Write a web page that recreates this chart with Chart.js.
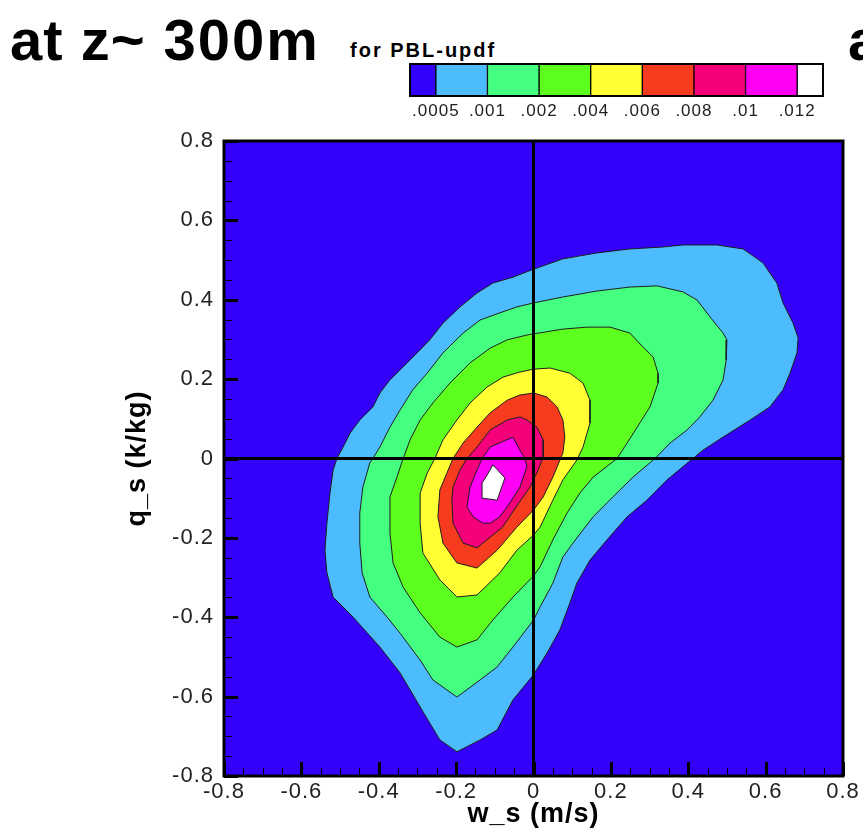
<!DOCTYPE html>
<html>
<head>
<meta charset="utf-8">
<script src="https://cdn.jsdelivr.net/npm/chart.js@4/dist/chart.umd.min.js"></script>
<style>
  html, body { margin: 0; padding: 0; background: #fff; }
  body { position: relative; width: 863px; height: 836px; overflow: hidden; font-family: "Liberation Sans", Arial, sans-serif; }
  canvas { position: absolute; }
  #pdf { left: 0; top: 0; }
  #scale { left: 380px; top: 54px; }
  .head { position: absolute; font-weight: bold; color: #000; white-space: nowrap; line-height: 1; }
  #h1 { left: 10px; top: 11px; font-size: 58px; letter-spacing: 1px; }
  #h1 span { margin-left: 18px; letter-spacing: 2px; }
  #h2 { left: 350px; top: 40px; font-size: 20px; letter-spacing: 2px; }
  #h3 { left: 848px; top: 11px; font-size: 58px; }
</style>
</head>
<body>
<div class="head" id="h1">at z~<span>300m</span></div>
<div class="head" id="h2">for PBL-updf</div>
<div class="head" id="h3">a</div>
<canvas id="pdf" width="863" height="836"></canvas>
<canvas id="scale" width="480" height="75"></canvas>
<script>
// contour levels of the joint pdf and their labels
const levels = [0.0005, 0.001, 0.002, 0.004, 0.006, 0.008, 0.01, 0.012];
const levelLabels = ['.0005', '.001', '.002', '.004', '.006', '.008', '.01', '.012'];
// band colours: below first level, then one per level
const bandColors = ['#3300fa', '#4cbcff', '#44ff80', '#5cff1e', '#ffff33', '#f73b1e', '#f5007a', '#ff00f5', '#ffffff'];
// width of each box in the colour bar
const bandWidths = [0.5, 1, 1, 1, 1, 1, 1, 1, 0.5];

// axis ticks (w_s and q_s share the same range)
const tickValues = [-0.8, -0.6, -0.4, -0.2, 0, 0.2, 0.4, 0.6, 0.8];
const tickLabels = ['-0.8', '-0.6', '-0.4', '-0.2', '0', '0.2', '0.4', '0.6', '0.8'];

// contour outlines, [w_s, q_s] pairs, one per level
const pdf0005 = [[-0.508,0.0],[-0.492,0.029],[-0.474,0.064],[-0.449,0.097],[-0.415,0.130],[-0.397,0.165],[-0.371,0.198],[-0.337,0.231],[-0.301,0.266],[-0.268,0.299],[-0.234,0.341],[-0.190,0.382],[-0.146,0.417],[-0.105,0.442],[-0.053,0.457],[0.0,0.477],[0.076,0.503],[0.164,0.518],[0.249,0.528],[0.335,0.533],[0.386,0.538],[0.474,0.538],[0.542,0.528],[0.593,0.493],[0.629,0.442],[0.645,0.392],[0.671,0.341],[0.684,0.304],[0.681,0.266],[0.663,0.215],[0.645,0.173],[0.611,0.130],[0.560,0.097],[0.490,0.054],[0.438,0.021],[0.412,0.0],[0.345,-0.054],[0.293,-0.105],[0.242,-0.147],[0.190,-0.205],[0.146,-0.256],[0.112,-0.314],[0.094,-0.364],[0.068,-0.432],[0.035,-0.490],[0.0,-0.545],[-0.053,-0.608],[-0.094,-0.684],[-0.138,-0.709],[-0.198,-0.739],[-0.242,-0.709],[-0.293,-0.626],[-0.345,-0.540],[-0.397,-0.475],[-0.467,-0.399],[-0.518,-0.349],[-0.534,-0.288],[-0.539,-0.231],[-0.534,-0.163],[-0.526,-0.087],[-0.518,-0.029]];
const pdf001 = [[-0.415,0.0],[-0.397,0.029],[-0.371,0.079],[-0.345,0.122],[-0.312,0.173],[-0.275,0.215],[-0.234,0.266],[-0.182,0.316],[-0.138,0.349],[-0.087,0.367],[-0.043,0.382],[0.0,0.392],[0.076,0.407],[0.164,0.422],[0.249,0.432],[0.319,0.435],[0.386,0.420],[0.423,0.399],[0.456,0.357],[0.490,0.316],[0.500,0.299],[0.498,0.248],[0.490,0.198],[0.464,0.147],[0.430,0.105],[0.397,0.072],[0.353,0.039],[0.314,0.0],[0.257,-0.047],[0.205,-0.097],[0.154,-0.147],[0.102,-0.213],[0.076,-0.248],[0.050,-0.314],[0.017,-0.374],[0.0,-0.407],[-0.053,-0.475],[-0.094,-0.525],[-0.138,-0.558],[-0.198,-0.601],[-0.260,-0.558],[-0.293,-0.508],[-0.345,-0.440],[-0.379,-0.399],[-0.423,-0.349],[-0.443,-0.288],[-0.449,-0.213],[-0.449,-0.137],[-0.441,-0.072],[-0.423,-0.011]];
const pdf002 = [[-0.337,0.0],[-0.319,0.047],[-0.293,0.097],[-0.260,0.140],[-0.216,0.190],[-0.164,0.241],[-0.112,0.278],[-0.068,0.299],[-0.017,0.311],[0.0,0.314],[0.076,0.326],[0.138,0.331],[0.198,0.331],[0.249,0.316],[0.283,0.281],[0.309,0.256],[0.322,0.215],[0.322,0.190],[0.301,0.130],[0.268,0.079],[0.242,0.039],[0.216,0.0],[0.154,-0.047],[0.120,-0.087],[0.087,-0.137],[0.050,-0.205],[0.017,-0.273],[0.0,-0.296],[-0.053,-0.349],[-0.105,-0.407],[-0.146,-0.457],[-0.198,-0.475],[-0.242,-0.450],[-0.293,-0.389],[-0.337,-0.324],[-0.363,-0.263],[-0.371,-0.188],[-0.371,-0.097],[-0.353,-0.047]];
const pdf004 = [[-0.255,0.0],[-0.234,0.047],[-0.198,0.097],[-0.164,0.140],[-0.120,0.180],[-0.079,0.205],[-0.035,0.218],[0.0,0.225],[0.043,0.228],[0.094,0.215],[0.128,0.190],[0.146,0.147],[0.146,0.089],[0.128,0.029],[0.112,-0.004],[0.076,-0.054],[0.050,-0.105],[0.017,-0.173],[0.0,-0.193],[-0.043,-0.231],[-0.087,-0.288],[-0.146,-0.344],[-0.198,-0.349],[-0.242,-0.306],[-0.286,-0.238],[-0.293,-0.163],[-0.293,-0.087],[-0.275,-0.037]];
const pdf006 = [[-0.208,0.0],[-0.182,0.039],[-0.146,0.079],[-0.112,0.115],[-0.068,0.147],[-0.035,0.160],[0.0,0.165],[0.035,0.155],[0.061,0.130],[0.076,0.097],[0.081,0.054],[0.076,0.014],[0.050,-0.047],[0.025,-0.097],[0.0,-0.130],[-0.043,-0.173],[-0.094,-0.231],[-0.146,-0.276],[-0.198,-0.263],[-0.234,-0.213],[-0.247,-0.147],[-0.242,-0.079],[-0.224,-0.037]];
const pdf008 = [[-0.172,0.0],[-0.146,0.029],[-0.112,0.072],[-0.068,0.097],[-0.035,0.105],[-0.017,0.097],[0.009,0.079],[0.025,0.047],[0.025,0.004],[0.012,-0.029],[-0.009,-0.072],[-0.045,-0.122],[-0.080,-0.173],[-0.146,-0.225],[-0.182,-0.213],[-0.208,-0.163],[-0.211,-0.105],[-0.208,-0.072],[-0.190,-0.029]];
const pdf01 = [[-0.133,0.0],[-0.112,0.029],[-0.053,0.054],[-0.035,0.021],[-0.022,0.0],[-0.017,-0.021],[-0.035,-0.072],[-0.061,-0.112],[-0.087,-0.147],[-0.112,-0.163],[-0.131,-0.163],[-0.156,-0.147],[-0.172,-0.122],[-0.164,-0.072],[-0.146,-0.029]];
const pdf012 = [[-0.105,-0.016],[-0.074,-0.049],[-0.094,-0.105],[-0.131,-0.100],[-0.133,-0.062],[-0.120,-0.042]];

const contours = [pdf0005, pdf001, pdf002, pdf004, pdf006, pdf008, pdf01, pdf012];

Chart.defaults.font.family = '"Liberation Sans", Arial, sans-serif';
Chart.defaults.color = '#222';

// the labels in this figure are set a little loose
const looseText = {
  id: 'looseText',
  beforeDraw(chart) { chart.ctx.letterSpacing = '1px'; }
};

// blue background, zero lines, inner ticks and frame
const plotFrame = {
  id: 'plotFrame',
  beforeDatasetsDraw(chart) {
    const {ctx, chartArea: a} = chart;
    ctx.save();
    ctx.fillStyle = bandColors[0];
    ctx.fillRect(a.left, a.top, a.width, a.height);
    ctx.restore();
  },
  afterDatasetsDraw(chart) {
    const {ctx, chartArea: a, scales: {x, y}} = chart;
    const seg = (x1, y1, x2, y2) => { ctx.beginPath(); ctx.moveTo(x1, y1); ctx.lineTo(x2, y2); ctx.stroke(); };
    ctx.save();
    ctx.strokeStyle = '#000';
    ctx.lineWidth = 3;
    const x0 = x.getPixelForValue(0), y0 = y.getPixelForValue(0);
    seg(x0, a.top, x0, a.bottom);
    seg(a.left, y0, a.right, y0);
    for (let i = 0; i <= 32; i++) {
      const v = -0.8 + i * 0.05;
      const major = i % 4 === 0;
      const len = major ? 14 : 8;
      ctx.lineWidth = major ? 3 : 1;
      const px = Math.round(x.getPixelForValue(v)) + 0.5;
      const py = Math.round(y.getPixelForValue(v)) + 0.5;
      seg(px, a.bottom, px, a.bottom - len);
      seg(a.left, py, a.left + len, py);
    }
    ctx.lineWidth = 3;
    ctx.strokeRect(a.left, a.top, a.width, a.height);
    ctx.restore();
  }
};

new Chart(document.getElementById('pdf'), {
  type: 'line',
  data: {
    datasets: contours.map((pts, i) => ({
      label: levelLabels[i],
      data: pts.concat([pts[0]]),
      backgroundColor: bandColors[i + 1],
      borderColor: '#1e1e1e',
      borderWidth: 1,
      fill: 'shape',
      tension: 0,
      pointRadius: 0,
      order: contours.length - i
    }))
  },
  options: {
    responsive: false,
    animation: false,
    events: [],
    layout: { padding: { top: 141, right: 20, left: 0, bottom: 0 } },
    plugins: { legend: { display: false }, tooltip: { enabled: false } },
    scales: {
      x: {
        type: 'linear', min: -0.8, max: 0.8,
        afterBuildTicks(s) { s.ticks = tickValues.map(value => ({ value })); },
        afterFit(s) { s.height = 60; },
        grid: { display: false, drawTicks: false },
        border: { display: false },
        ticks: { autoSkip: false, maxRotation: 0, padding: 3, color: '#222', font: { size: 22 }, callback: (v, i) => tickLabels[i] },
        title: { display: true, text: 'w_s (m/s)', color: '#000', font: { size: 27, weight: 'bold' }, padding: { top: 0, bottom: 5 } }
      },
      y: {
        type: 'linear', min: -0.8, max: 0.8,
        afterBuildTicks(s) { s.ticks = tickValues.map(value => ({ value })); },
        afterFit(s) { s.width = 224; },
        grid: { display: false, drawTicks: false },
        border: { display: false },
        ticks: { autoSkip: false, padding: 10, color: '#222', font: { size: 22 }, callback: (v, i) => tickLabels[i] },
        title: { display: true, text: 'q_s (k/kg)', color: '#000', font: { size: 27, weight: 'bold' }, padding: { top: 121, bottom: 0 } }
      }
    }
  },
  plugins: [looseText, plotFrame]
});

// colour bar: one stacked box per band, labels at the band edges
const edgePos = bandWidths.slice(0, -1).map((w, i) => bandWidths.slice(0, i + 1).reduce((a, b) => a + b, 0));
const barFrame = {
  id: 'barFrame',
  afterDatasetsDraw(chart) {
    const {ctx, chartArea: a} = chart;
    ctx.save();
    ctx.strokeStyle = '#000';
    ctx.lineWidth = 2;
    ctx.strokeRect(a.left, a.top, a.width, a.height);
    ctx.restore();
  }
};
new Chart(document.getElementById('scale'), {
  type: 'bar',
  data: {
    labels: [''],
    datasets: bandWidths.map((w, i) => ({
      data: [w],
      backgroundColor: bandColors[i],
      borderColor: '#000',
      borderWidth: 1,
      borderSkipped: false,
      barPercentage: 1,
      categoryPercentage: 1
    }))
  },
  options: {
    indexAxis: 'y',
    responsive: false,
    animation: false,
    events: [],
    layout: { padding: { top: 10, right: 37, left: 30, bottom: 0 } },
    plugins: { legend: { display: false }, tooltip: { enabled: false } },
    scales: {
      y: { stacked: true, display: false },
      x: {
        stacked: true, type: 'linear', min: 0, max: bandWidths.reduce((a, b) => a + b, 0),
        afterBuildTicks(s) { s.ticks = edgePos.map(value => ({ value })); },
        afterFit(s) { s.height = 33; },
        grid: { display: false, drawTicks: false },
        border: { display: false },
        ticks: { autoSkip: false, maxRotation: 0, padding: 5, color: '#222', font: { size: 17 }, callback: (v, i) => levelLabels[i] }
      }
    }
  },
  plugins: [looseText, barFrame]
});
</script>
</body>
</html>
